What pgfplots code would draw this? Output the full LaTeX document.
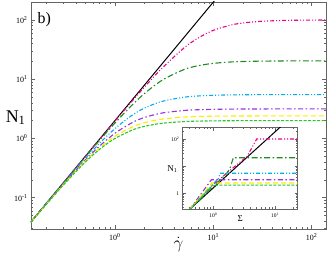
\documentclass[border=0pt]{standalone}
\usepackage{pgfplots}
\pgfplotsset{compat=1.18}
\usepackage{fontspec}
\setmainfont{Liberation Serif}
\definecolor{dkgreen}{RGB}{34,139,34}
\definecolor{violetc}{RGB}{150,50,225}
\definecolor{ltgreen}{RGB}{40,200,40}
\definecolor{yel}{RGB}{255,235,0}
\definecolor{axgray}{RGB}{100,100,100}
\pgfplotsset{
  magsty/.style={color=magenta, line width=1.1bp, dash pattern=on 4bp off 2bp on 1bp off 2bp on 1bp off 2bp},
  dgsty/.style={color=dkgreen, line width=1.1bp, dash pattern=on 6bp off 2.5bp on 1.5bp off 2.5bp},
  cysty/.style={color=cyan, line width=1.1bp, dash pattern=on 4bp off 2bp on 1bp off 2bp on 1bp off 2bp},
  visty/.style={color=violetc, line width=1.1bp, dash pattern=on 5bp off 2.5bp on 1.5bp off 2.5bp},
  yesty/.style={color=yel, line width=1.1bp, dash pattern=on 5bp off 3bp},
  lgsty/.style={color=ltgreen, line width=1.1bp, dash pattern=on 3bp off 1.5bp},
}
\begin{document}
\begin{tikzpicture}
\begin{loglogaxis}[
  at={(0,0)}, anchor=south west,
  scale only axis, width=295bp, height=227bp,
  clip mode=individual,
  xmin=0.14, xmax=140, ymin=0.0296, ymax=201,
  axis line style={axgray, line width=0.8bp},
  tick style={axgray, line width=0.5bp},
  major tick length=4bp, minor tick length=2bp,
  xtick={1,10,100},
  xticklabels={10\textsuperscript{0},10\textsuperscript{1},10\textsuperscript{2}},
  ytick={0.1,1,10,100},
  yticklabels={10\textsuperscript{-1},10\textsuperscript{0},10\textsuperscript{1},10\textsuperscript{2}},
  minor xtick={0.2,0.3,0.4,0.5,0.6,0.7,0.8,0.9,2,3,4,5,6,7,8,9,20,30,40,50,60,70,80,90},
  minor ytick={0.03,0.04,0.05,0.06,0.07,0.08,0.09,0.2,0.3,0.4,0.5,0.6,0.7,0.8,0.9,2,3,4,5,6,7,8,9,20,30,40,50,60,70,80,90,200},
  tick label style={font=\fontsize{8}{9}\selectfont},
  xticklabel style={yshift=-1bp},
]
\addplot[black, line width=1bp] coordinates {(0.1,0.02) (14,392)};
\addplot[magsty, smooth] coordinates {(0.14,0.03918) (0.2,0.0799) (0.3,0.1797) (0.5,0.4975) (0.7,0.9705) (1,1.961) (1.5,4.306) (2,7.407) (3,15.25) (5,33.33) (7,49.49) (10,66.67) (15,81.82) (20,88.89) (30,94.74) (50,98.04) (70,98.99) (100,99.50) (140,99.75)};
\addplot[dgsty, smooth] coordinates {(0.14,0.03912) (0.2,0.07969) (0.3,0.1784) (0.5,0.4880) (0.7,0.9351) (1,1.821) (1.5,3.687) (2,5.746) (3,9.563) (5,14.49) (7,16.89) (10,18.51) (15,19.52) (20,19.89) (30,20.17) (50,20.32) (70,20.36) (100,20.38) (140,20.39)};
\addplot[cysty, smooth] coordinates {(0.14,0.03892) (0.2,0.07885) (0.3,0.1743) (0.5,0.4583) (0.7,0.8318) (1,1.467) (1.5,2.475) (2,3.259) (3,4.213) (5,4.955) (7,5.208) (10,5.353) (15,5.434) (20,5.462) (30,5.483) (50,5.494) (70,5.497) (100,5.498) (140,5.499)};
\addplot[visty, smooth] coordinates {(0.14,0.03872) (0.2,0.07802) (0.3,0.1703) (0.5,0.4315) (0.7,0.7475) (1,1.223) (1.5,1.853) (2,2.260) (3,2.681) (5,2.963) (7,3.052) (10,3.101) (15,3.128) (20,3.138) (30,3.145) (50,3.148) (70,3.149) (100,3.15) (140,3.15)};
\addplot[yesty, smooth] coordinates {(0.14,0.03857) (0.2,0.07742) (0.3,0.1674) (0.5,0.4138) (0.7,0.6959) (1,1.091) (1.5,1.565) (2,1.846) (3,2.118) (5,2.290) (7,2.343) (10,2.372) (15,2.387) (20,2.393) (30,2.397) (50,2.399) (70,2.4) (100,2.4) (140,2.4)};
\addplot[lgsty, smooth] coordinates {(0.14,0.03845) (0.2,0.07692) (0.3,0.1651) (0.5,0.4) (0.7,0.6577) (1,1.0) (1.5,1.385) (2,1.6) (3,1.8) (5,1.923) (7,1.96) (10,1.980) (15,1.991) (20,1.995) (30,1.998) (50,1.999) (70,2.0) (100,2.0) (140,2.0)};
\node[anchor=north west, font=\fontsize{16}{18}\selectfont, inner sep=0pt] at (rel axis cs:0.022,0.955) {b)};
\node[font=\fontsize{18}{20}\selectfont, inner sep=0pt] at (rel axis cs:-0.052,0.49) {N\textsubscript{1}};
\node[font=\fontsize{18}{20}\selectfont, inner sep=0pt] at (rel axis cs:0.50,-0.07) {$\dot{\gamma}$};
\end{loglogaxis}
\begin{loglogaxis}[
  at={(151.7bp,20bp)}, anchor=south west,
  scale only axis, width=115bp, height=81.3bp,
  clip mode=individual,
  xmin=0.319, xmax=23.3, ymin=0.265, ymax=260,
  axis background/.style={fill=white},
  axis line style={axgray, line width=0.7bp},
  tick style={axgray, line width=0.4bp},
  major tick length=3bp, minor tick length=1.5bp,
  xtick={1,10}, xticklabels={10\textsuperscript{0},10\textsuperscript{1}},
  ytick={1,10,100}, yticklabels={1,,10\textsuperscript{2}},
  minor xtick={0.4,0.5,0.6,0.7,0.8,0.9,2,3,4,5,6,7,8,9,20},
  minor ytick={0.3,0.4,0.5,0.6,0.7,0.8,0.9,2,3,4,5,6,7,8,9,20,30,40,50,60,70,80,90,200},
  tick label style={font=\fontsize{5.5}{6}\selectfont},
]
\addplot[black, line width=1bp] coordinates {(0.3,0.133) (15,422)};
\addplot[magsty] coordinates {(0.41,0.25) (1.0,2.1) (2.0,8.0) (3.5,22.4) (5.05,100) (25,100)};
\addplot[dgsty] coordinates {(0.41,0.25) (1.65,5.4) (1.86,8.3) (2.11,20.4) (25,20.4)};
\addplot[cysty] coordinates {(0.41,0.25) (1.2,3.5) (1.3,5.5) (25,5.5)};
\addplot[visty] coordinates {(0.41,0.25) (0.93,3.15) (25,3.15)};
\addplot[yesty] coordinates {(0.41,0.25) (0.95,2.4) (25,2.4)};
\addplot[lgsty] coordinates {(0.41,0.25) (0.97,2.0) (25,2.0)};
\node[font=\fontsize{9}{10}\selectfont, inner sep=0pt] at (rel axis cs:0.50,-0.12) {Σ};
\node[font=\fontsize{9}{10}\selectfont, inner sep=0pt] at (rel axis cs:-0.09,0.49) {N\textsubscript{1}};
\end{loglogaxis}
\pgfresetboundingbox
\path (-31bp,-28bp) rectangle (301bp,229bp);
\end{tikzpicture}
\end{document}
